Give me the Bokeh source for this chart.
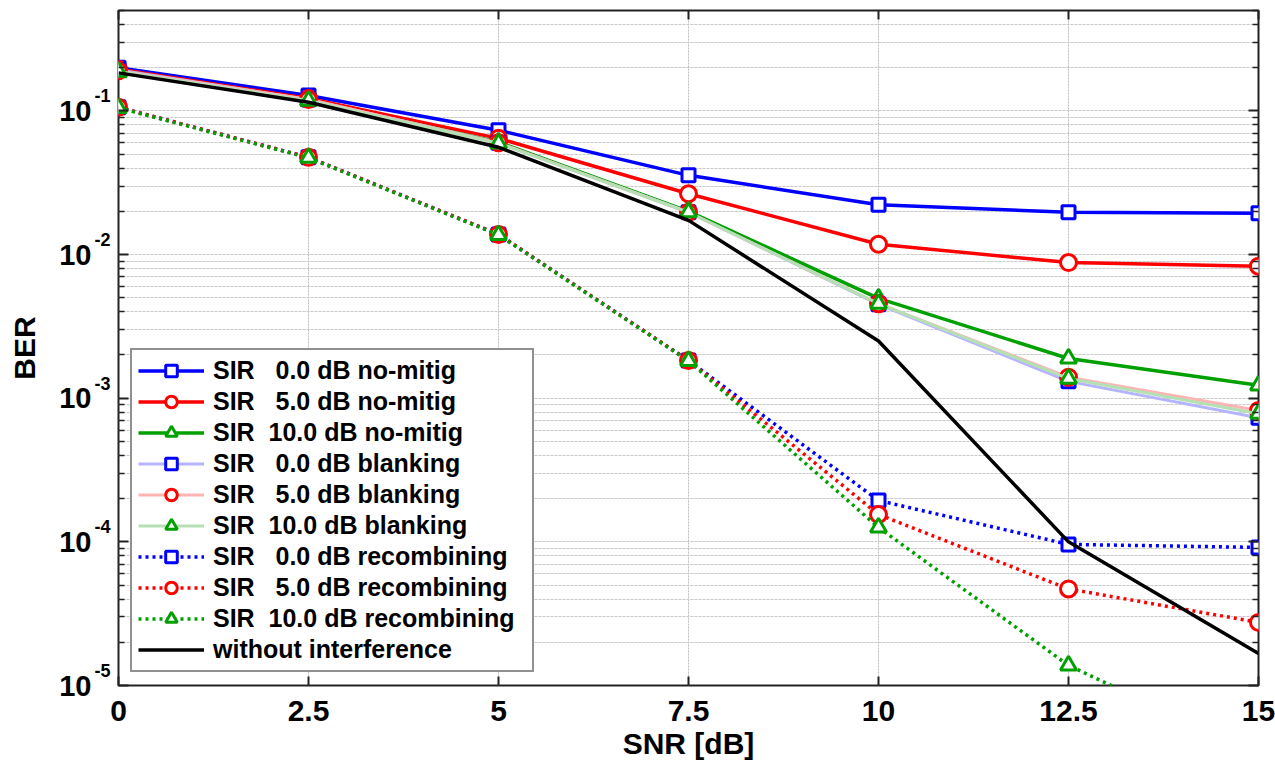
from bokeh.plotting import figure
from bokeh.models import (Range1d, FixedTicker, LinearAxis, LogAxis, Legend, LegendItem,
                          CustomJSTickFormatter)
from bokeh.embed import file_html
from bokeh.resources import INLINE

# ---------------- data ----------------
snr = [0, 2.5, 5, 7.5, 10, 12.5, 15]
nomitig_0 = [0.200, 0.128, 0.0733, 0.0356, 0.0222, 0.0197, 0.0194]
nomitig_5 = [0.195, 0.122, 0.0644, 0.0265, 0.0118, 0.0088, 0.0083]
nomitig_10 = [0.186, 0.118, 0.0605, 0.0200, 0.00495, 0.00189, 0.00123]
blank_0 = [0.193, 0.120, 0.0600, 0.0197, 0.00450, 0.00131, 0.00073]
blank_5 = [0.190, 0.120, 0.0600, 0.0197, 0.00455, 0.00140, 0.00082]
blank_10 = [0.188, 0.118, 0.0595, 0.0197, 0.00455, 0.00137, 0.00078]
recomb_0 = [0.106, 0.0475, 0.0138, 0.00183, 0.000194, 9.6e-5, 9.15e-5]
recomb_5 = [0.106, 0.0475, 0.0138, 0.00183, 0.000155, 4.7e-5, 2.75e-5]
recomb_10 = [0.105, 0.0472, 0.0137, 0.00182, 0.000126, 1.38e-5, 3.3e-6]
no_interf = [0.184, 0.115, 0.0558, 0.0173, 0.00250, 1.0e-4, 1.67e-5]

x_ticks = [0, 2.5, 5, 7.5, 10, 12.5, 15]
x_tick_labels = ["0", "2.5", "5", "7.5", "10", "12.5", "15"]
y_decades = [1e-5, 1e-4, 1e-3, 1e-2, 1e-1]
y_base = "10"

NB = "\u00a0"
labels = [
    "SIR" + NB * 3 + "0.0 dB no-mitig",
    "SIR" + NB * 3 + "5.0 dB no-mitig",
    "SIR" + NB * 2 + "10.0 dB no-mitig",
    "SIR" + NB * 3 + "0.0 dB blanking",
    "SIR" + NB * 3 + "5.0 dB blanking",
    "SIR" + NB * 2 + "10.0 dB blanking",
    "SIR" + NB * 3 + "0.0 dB recombining",
    "SIR" + NB * 3 + "5.0 dB recombining",
    "SIR" + NB * 2 + "10.0 dB recombining",
    "without interference",
]

FONT = "Liberation Sans"
TXT = "#000000"
AX = "#222222"
BLUE, RED, GREEN = "#0000ff", "#ff0000", "#00a000"
LBLUE, LRED, LGREEN = "#b4b4ff", "#ffb4b4", "#b4e0b4"

p = figure(width=1275, height=762,
           x_range=Range1d(0, 15), y_range=Range1d(1e-5, 0.5),
           y_axis_type="log", output_backend="svg", toolbar_location=None,
           min_border_left=118, min_border_right=17, min_border_top=10, min_border_bottom=77)
p.background_fill_color = "white"
p.border_fill_color = "white"
p.outline_line_color = AX
p.outline_line_width = 2

# ticks
minor = [m * d for d in [1e-5, 1e-4, 1e-3, 1e-2, 1e-1] for m in range(2, 10) if m * d <= 0.5]
yticker = FixedTicker(ticks=y_decades, minor_ticks=minor)
xticker = FixedTicker(ticks=x_ticks)
blank_fmt = CustomJSTickFormatter(code="return '';")
# exponent on the first line, empty second line -> label raised like a superscript
exp_fmt = CustomJSTickFormatter(code="return String(Math.round(Math.log10(tick))) + '\\n ';")
base_fmt = CustomJSTickFormatter(args=dict(base=y_base), code="return base;")

p.xaxis.ticker = xticker
p.xaxis.major_label_overrides = {t: l for t, l in zip(x_ticks, x_tick_labels)}
p.yaxis.ticker = yticker

for ax in p.xaxis:
    ax.axis_label = "SNR [dB]"
    ax.axis_label_text_font = FONT
    ax.axis_label_text_font_style = "bold"
    ax.axis_label_text_font_size = "30px"
    ax.axis_label_text_color = TXT
    ax.axis_label_text_line_height = 0.9
    ax.axis_label_standoff = 3
    ax.major_label_text_font = FONT
    ax.major_label_text_font_style = "bold"
    ax.major_label_text_font_size = "30px"
    ax.major_label_text_color = TXT
    ax.major_label_text_line_height = 0.9
    ax.major_label_standoff = 15
    ax.major_tick_in = 9
    ax.major_tick_out = 0
    ax.minor_tick_in = 0
    ax.minor_tick_out = 0
    ax.axis_line_color = None
    ax.major_tick_line_color = AX
    ax.major_tick_line_width = 2

# inner left axis: ticks + exponent (superscript) labels
for ax in p.yaxis:
    ax.formatter = exp_fmt
    ax.major_label_text_font = FONT
    ax.major_label_text_font_style = "bold"
    ax.major_label_text_font_size = "18px"
    ax.major_label_text_color = TXT
    ax.major_label_text_baseline = "middle"
    ax.major_label_text_align = "right"
    ax.major_label_text_line_height = 1.45
    ax.major_label_standoff = 8
    ax.major_tick_in = 10
    ax.major_tick_out = 0
    ax.minor_tick_in = 6
    ax.minor_tick_out = 0
    ax.axis_line_color = None
    ax.major_tick_line_color = AX
    ax.minor_tick_line_color = AX
    ax.major_tick_line_width = 2
    ax.minor_tick_line_width = 1.5

# outer left axis: the "10" bases and the axis title
base_axis = LogAxis(ticker=yticker, formatter=base_fmt,
                    axis_label="BER", axis_label_text_font=FONT, axis_label_text_font_style="bold",
                    axis_label_text_font_size="30px", axis_label_text_color=TXT,
                    axis_label_standoff=15,
                    major_label_text_font=FONT, major_label_text_font_style="bold",
                    major_label_text_font_size="29px", major_label_text_color=TXT,
                    major_label_standoff=0,
                    major_tick_in=0, major_tick_out=0, minor_tick_in=0, minor_tick_out=0,
                    axis_line_color=None, major_tick_line_color=None, minor_tick_line_color=None)
p.add_layout(base_axis, "left")

top = LinearAxis(ticker=xticker, formatter=blank_fmt, major_label_text_font_size="1px",
                 major_label_standoff=0,
                 major_tick_in=9, major_tick_out=0, minor_tick_in=0, minor_tick_out=0,
                 axis_line_color=None, major_tick_line_color=AX, major_tick_line_width=2)
p.add_layout(top, "above")
right = LogAxis(ticker=yticker, formatter=blank_fmt, major_label_text_font_size="1px",
                major_label_standoff=0,
                major_tick_in=10, major_tick_out=0, minor_tick_in=6, minor_tick_out=0,
                axis_line_color=None, major_tick_line_color=AX, minor_tick_line_color=AX,
                major_tick_line_width=2, minor_tick_line_width=1.5)
p.add_layout(right, "right")

# grids
p.xgrid.ticker = xticker
p.xgrid.grid_line_color = "#bdbdbd"
p.xgrid.grid_line_width = 1
p.xgrid.grid_line_dash = "2 1"
p.ygrid.ticker = yticker
p.ygrid.grid_line_color = "#c8c8c8"
p.ygrid.grid_line_width = 1.2
p.ygrid.grid_line_dash = "3 1"
p.ygrid.minor_grid_line_color = "#c8c8c8"
p.ygrid.minor_grid_line_width = 1.2
p.ygrid.minor_grid_line_dash = "3 1"

items = []

def series(y, line_color, marker_color, marker, size, dash="solid", lw=3.5, label=None):
    r1 = p.line(snr, y, line_color=line_color, line_width=lw, line_dash=dash)
    rs = [r1]
    if marker is not None:
        r2 = p.scatter(snr, y, marker=marker, size=size, line_color=marker_color,
                       fill_color="white", line_width=3)
        rs.append(r2)
    items.append(LegendItem(label=label, renderers=rs))

series(nomitig_0, BLUE, BLUE, "square", 13, label=labels[0])
series(nomitig_5, RED, RED, "circle", 16, label=labels[1])
series(nomitig_10, GREEN, GREEN, "triangle", 16, label=labels[2])
series(blank_0, LBLUE, BLUE, "square", 13, lw=3, label=labels[3])
series(blank_5, LRED, RED, "circle", 16, lw=3, label=labels[4])
series(blank_10, LGREEN, GREEN, "triangle", 16, lw=3, label=labels[5])
series(recomb_0, BLUE, BLUE, "square", 13, dash="3 4", label=labels[6])
series(recomb_5, RED, RED, "circle", 16, dash="3 4", label=labels[7])
series(recomb_10, GREEN, GREEN, "triangle", 16, dash="3 4", label=labels[8])
series(no_interf, "black", "black", None, 0, label=labels[9])

legend = Legend(items=items, location=(12, 13))
legend.label_text_font = FONT
legend.label_text_font_style = "bold"
legend.label_text_font_size = "25px"
legend.label_text_color = TXT
legend.label_height = 29
legend.label_width = 313
legend.glyph_height = 29
legend.glyph_width = 66
legend.label_standoff = 9
legend.spacing = 2
legend.padding = 6
legend.margin = 0
legend.border_line_color = AX
legend.border_line_width = 2
legend.background_fill_color = "white"
legend.background_fill_alpha = 1
p.add_layout(legend, "center")

open("out.html", "w").write(file_html(p, INLINE))
